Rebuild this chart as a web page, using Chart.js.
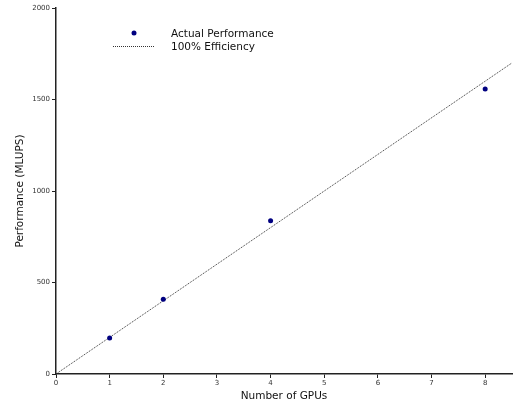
<!DOCTYPE html>
<html>
<head>
<meta charset="utf-8">
<script src="https://cdn.jsdelivr.net/npm/chart.js@4/dist/chart.umd.min.js"></script>
<style>
  html, body { margin: 0; padding: 0; background: #fff; }
  #wrap { width: 516px; height: 410px; position: relative; }
</style>
</head>
<body>
<div id="wrap"><canvas id="perfChart"></canvas></div>
<script>
// ── Data ──────────────────────────────────────────────────────────────────────
const gpuCounts   = [1, 2, 4, 8];
const mlups       = [197, 408, 838, 1557];
const idealGpus   = [0, 8.5];
const idealMlups  = [0, 1700];
const yTicks      = [0, 500, 1000, 1500, 2000];
const xTicks      = [0, 1, 2, 3, 4, 5, 6, 7, 8];

const FONT = 'DejaVu Sans';
const INK  = '#222';

// ── Legend drawn inside the plot area ─────────────────────────────────────────
const innerLegend = {
  id: 'innerLegend',
  afterDraw(chart) {
    const ctx = chart.ctx;
    ctx.save();
    ctx.font = `10.5px "${FONT}"`;
    ctx.textBaseline = 'middle';
    // marker row
    ctx.beginPath();
    ctx.fillStyle = '#000080';
    ctx.arc(134, 33, 2.5, 0, Math.PI * 2);
    ctx.fill();
    ctx.fillStyle = '#111';
    ctx.fillText(chart.data.datasets[0].label, 171, 34);
    // line row
    ctx.strokeStyle = '#333';
    ctx.lineWidth = 1;
    ctx.setLineDash([1, 1]);
    ctx.beginPath();
    ctx.moveTo(113, 46.5);
    ctx.lineTo(155, 46.5);
    ctx.stroke();
    ctx.setLineDash([]);
    ctx.fillText(chart.data.datasets[1].label, 171, 47);
    ctx.restore();
  }
};

// ── Chart ─────────────────────────────────────────────────────────────────────
const ctx = document.getElementById('perfChart').getContext('2d');
new Chart(ctx, {
  type: 'scatter',
  data: {
    datasets: [{
      label: 'Actual Performance',
      data: gpuCounts.map((g, i) => ({ x: g, y: mlups[i] })),
      backgroundColor: '#000080',
      borderColor: '#000080',
      pointRadius: 2.5,
      borderWidth: 0,
      order: 0,
    }, {
      label: '100% Efficiency',
      type: 'line',
      data: idealGpus.map((g, i) => ({ x: g, y: idealMlups[i] })),
      borderColor: '#333',
      borderWidth: 1,
      borderDash: [1, 1],
      pointRadius: 0,
      fill: false,
      order: 1,
    }]
  },
  options: {
    responsive: true,
    maintainAspectRatio: false,
    animation: false,
    layout: { padding: { top: 8, right: 2, left: 0, bottom: 0 } },
    plugins: { legend: { display: false }, tooltip: { enabled: false } },
    scales: {
      x: {
        type: 'linear',
        min: 0,
        max: 8.5,
        afterBuildTicks: s => { s.ticks = xTicks.map(v => ({ value: v })); },
        afterFit: s => { s.height = 36; },
        border: { display: true, color: INK, width: 1.5 },
        grid: { drawOnChartArea: false, drawTicks: true, tickLength: 4, color: INK },
        ticks: { color: '#333', font: { family: FONT, size: 7 }, padding: 1, maxRotation: 0,
                 callback: v => String(v) },
        title: { display: true, text: 'Number of GPUs', color: '#111',
                 font: { family: FONT, size: 10.5 }, padding: { top: 2, bottom: 7 } },
      },
      y: {
        min: 0,
        max: 2000,
        afterBuildTicks: s => { s.ticks = yTicks.map(v => ({ value: v })); },
        afterFit: s => { s.width = 56; },
        border: { display: true, color: INK, width: 1.5 },
        grid: { drawOnChartArea: false, drawTicks: true, tickLength: 4, color: INK },
        ticks: { color: '#333', font: { family: FONT, size: 7 }, padding: 2,
                 callback: v => String(v) },
        title: { display: true, text: 'Performance (MLUPS)', color: '#111',
                 font: { family: FONT, size: 10.5 }, padding: { top: 14, bottom: 0 } },
      },
    },
  },
  plugins: [innerLegend],
});
</script>
</body>
</html>
